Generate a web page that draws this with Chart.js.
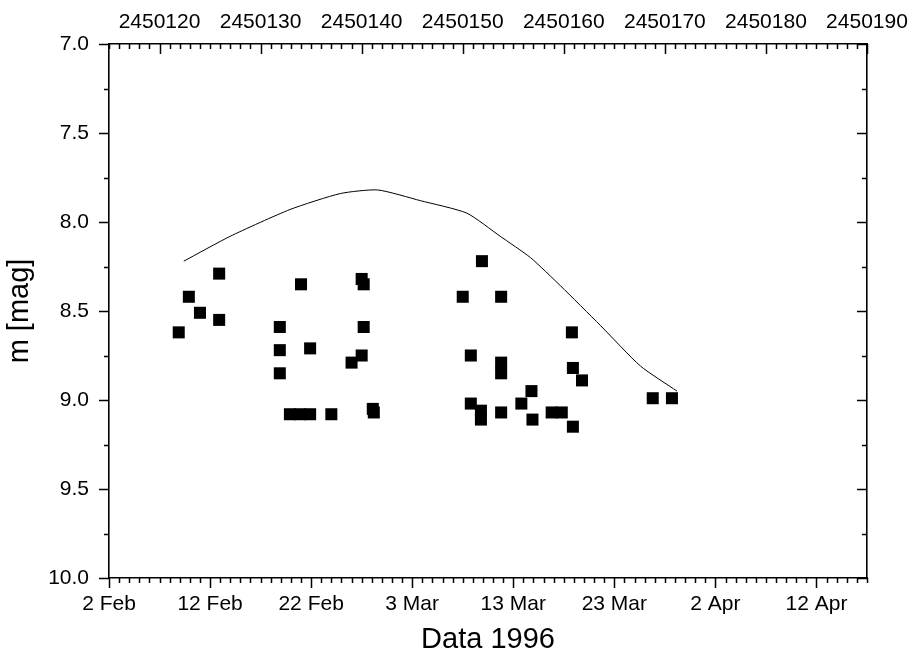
<!DOCTYPE html>
<html>
<head>
<meta charset="utf-8">
<title>m [mag] 1996</title>
<script src="https://cdn.jsdelivr.net/npm/chart.js@4.4.1/dist/chart.umd.min.js"></script>
<style>
  html, body { margin: 0; padding: 0; background: #fff; }
  #wrap { width: 913px; height: 660px; }
</style>
</head>
<body>
<div id="wrap"><canvas id="lc" width="913" height="660"></canvas></div>
<script>
// days counted from 2 Feb 1996 (JD 2450115)
var jdStart = 2450115;

// observed magnitudes
var obsDay = [6.9, 7.9, 9.0, 10.9, 10.9,
              16.9, 16.9, 16.9, 17.9, 18.9, 19.9, 19.0, 19.9, 22.0, 24.0,
              25.0, 25.2, 25.2, 25.0, 26.2, 26.1,
              35.0, 35.8, 35.8, 36.8, 36.8, 36.9, 38.8, 38.8, 38.8, 38.8,
              40.8, 41.8, 41.9, 43.8, 44.8, 45.8, 45.9, 45.9, 46.8,
              53.8, 55.7];
var obsMag = [8.62, 8.42, 8.51, 8.29, 8.55,
              8.59, 8.72, 8.85, 9.08, 9.08, 9.08, 8.35, 8.71, 9.08, 8.79,
              8.32, 8.35, 8.59, 8.75, 9.07, 9.05,
              8.42, 8.75, 9.02, 9.06, 9.11, 8.22, 8.42, 8.79, 8.85, 9.07,
              9.02, 8.95, 9.11, 9.07, 9.07, 8.62, 8.82, 9.15, 8.89,
              8.99, 8.99];

// model light curve
var curveDay = [7.4, 12.0, 17.9, 22.9, 26.6, 30.8, 35.4, 38.7, 41.7, 44.7, 48.6, 52.6, 56.2];
var curveMag = [8.22, 8.08, 7.93, 7.84, 7.82, 7.88, 7.95, 8.08, 8.20, 8.36, 8.58, 8.81, 8.95];

// axis ticks
var dateTicks = [0, 10, 20, 30, 40, 50, 60, 70];
var dateLabels = ['2 Feb', '12 Feb', '22 Feb', '3 Mar', '13 Mar', '23 Mar', '2 Apr', '12 Apr'];
var jdTicks = [2450120, 2450130, 2450140, 2450150, 2450160, 2450170, 2450180, 2450190];
var magTicks = [7.0, 7.5, 8.0, 8.5, 9.0, 9.5, 10.0];

Chart.defaults.font.family = 'Arial, "Liberation Sans", sans-serif';
Chart.defaults.color = '#000';

function pts(xs, ys) {
  return xs.map(function (x, i) { return { x: x, y: ys[i] }; });
}
function fixTicks(list) {
  return function (scale) { scale.ticks = list.map(function (v) { return { value: v }; }); };
}
// fixed axis box sizes, no extra room for overhanging labels
function boxH(h) {
  return function (s) { s.height = h; s.paddingLeft = 0; s.paddingRight = 0; };
}
function boxW(w) {
  return function (s) { s.width = w; s.paddingTop = 0; s.paddingBottom = 0; };
}

// Origin style tick marks: major + minor, in/out per side
var tickMarks = {
  id: 'tickMarks',
  afterDraw: function (chart) {
    var ctx = chart.ctx, s = chart.scales;
    var big = 10, small = 5;
    ctx.save();
    ctx.strokeStyle = '#000';
    ctx.lineWidth = 1.5;
    ctx.beginPath();
    var d, p, len, v;
    // bottom: outward
    for (d = 0; d <= 75; d++) {
      p = Math.round(s.x.getPixelForValue(d)) + 0.5;
      len = d % 10 === 0 ? big : small;
      ctx.moveTo(p, s.x.top); ctx.lineTo(p, s.x.top + len);
    }
    // top: inward
    for (d = jdStart; d <= jdStart + 75; d++) {
      p = Math.round(s.xTop.getPixelForValue(d)) + 0.5;
      len = d % 10 === 0 ? big : small;
      ctx.moveTo(p, s.xTop.bottom); ctx.lineTo(p, s.xTop.bottom + len);
    }
    // left: outward, right: inward
    for (var k = 0; k <= 12; k++) {
      v = 7 + k * 0.25;
      len = k % 2 === 0 ? big : small;
      p = Math.round(s.y.getPixelForValue(v)) + 0.5;
      ctx.moveTo(s.y.right, p); ctx.lineTo(s.y.right - len, p);
      p = Math.round(s.yRight.getPixelForValue(v)) + 0.5;
      ctx.moveTo(s.yRight.left, p); ctx.lineTo(s.yRight.left - len, p);
    }
    ctx.stroke();
    ctx.restore();
  }
};

var axisBorder = { display: true, color: '#000', width: 1.6 };
var tickFont = { size: 21 };
var titleFont = { size: 29 };

new Chart(document.getElementById('lc'), {
  type: 'scatter',
  data: {
    datasets: [{
      data: pts(obsDay, obsMag),
      pointStyle: 'rect',
      pointRadius: 8.5,
      pointHoverRadius: 8.5,
      backgroundColor: '#000',
      borderColor: '#000',
      borderWidth: 0,
      xAxisID: 'x',
      yAxisID: 'y',
      order: 1
    }, {
      data: pts(curveDay, curveMag),
      showLine: true,
      pointRadius: 0,
      borderColor: '#000',
      borderWidth: 1,
      tension: 0.2,
      fill: false,
      xAxisID: 'x',
      yAxisID: 'y',
      order: 2
    }]
  },
  options: {
    responsive: false,
    devicePixelRatio: 1,
    animation: false,
    layout: { padding: 0 },
    plugins: { legend: { display: false }, tooltip: { enabled: false } },
    scales: {
      x: {
        type: 'linear', position: 'bottom', min: 0, max: 75,
        afterBuildTicks: fixTicks(dateTicks),
        afterFit: boxH(82),
        grid: { display: false, drawTicks: false },
        border: axisBorder,
        ticks: {
          font: tickFont, padding: 14, maxRotation: 0, autoSkip: false,
          callback: function (v) { return dateLabels[dateTicks.indexOf(v)]; }
        },
        title: { display: true, text: 'Data 1996', font: titleFont, padding: { top: 0, bottom: 3 } }
      },
      xTop: {
        type: 'linear', position: 'top', min: jdStart, max: jdStart + 75,
        afterBuildTicks: fixTicks(jdTicks),
        afterFit: boxH(44),
        grid: { display: false, drawTicks: false },
        border: axisBorder,
        ticks: {
          font: tickFont, padding: 9, maxRotation: 0, autoSkip: false,
          callback: function (v) { return String(v); }
        }
      },
      y: {
        type: 'linear', position: 'left', min: 7, max: 10, reverse: true,
        afterBuildTicks: fixTicks(magTicks),
        afterFit: boxW(109),
        grid: { display: false, drawTicks: false },
        border: axisBorder,
        ticks: {
          font: tickFont, padding: 20,
          callback: function (v) { return v.toFixed(1); }
        },
        title: { display: true, text: 'm [mag]', font: titleFont, padding: { top: 3, bottom: 0 } }
      },
      yRight: {
        type: 'linear', position: 'right', min: 7, max: 10, reverse: true,
        afterFit: boxW(46),
        grid: { display: false, drawTicks: false },
        border: axisBorder,
        ticks: { display: false }
      }
    }
  },
  plugins: [tickMarks]
});
</script>
</body>
</html>
